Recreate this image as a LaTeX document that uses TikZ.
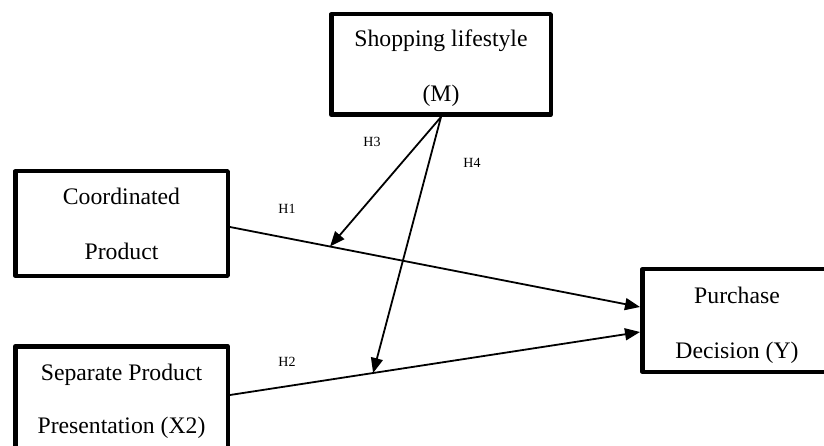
\documentclass[tikz,border=0pt]{standalone}
\usepackage{fontspec}
\setmainfont{Liberation Serif}
\usetikzlibrary{arrows.meta}
\begin{document}
\begin{tikzpicture}[x=1pt,y=-1pt,
  box/.style={draw=black, line width=4.5pt, line join=round, inner sep=0pt, fill=white},
  boxtext/.style={anchor=base, inner sep=0pt, font=\fontsize{23.7pt}{28pt}\selectfont},
  hyp/.style={anchor=base, inner sep=0pt, font=\fontsize{14pt}{16pt}\selectfont},
  conn/.style={draw=black, line width=1.8pt},
  tip/.style={-{Triangle[length=15pt,width=12pt]}}]
\useasboundingbox (0,0) rectangle (824,446);
\clip (0,0) rectangle (824,446);
\fill[white] (0,0) rectangle (824,446);
% boxes
\node[box, minimum width=219.5pt, minimum height=100.5pt] (shop) at (441,64.5) {};
\node[box, minimum width=212.5pt, minimum height=104.5pt] (coord) at (121.5,223.5) {};
\node[box, minimum width=212.5pt, minimum height=104.5pt] (sep) at (121.5,398.5) {};
\node[box, minimum width=189.5pt, minimum height=102.5pt] (purch) at (737,320.5) {};
% box texts
\node[boxtext] (shopA) at (441,47) {Shopping lifestyle};
\node[boxtext] (shopB) at (441,102) {(M)};
\node[boxtext] (coordA) at (121.5,205) {Coordinated};
\node[boxtext] (coordB) at (121.5,260) {Product};
\node[boxtext] (sepA) at (121.5,380) {Separate Product};
\node[boxtext] (sepB) at (121.5,433) {Presentation (X2)};
\node[boxtext] (purchA) at (737,303) {Purchase};
\node[boxtext] (purchB) at (737,358) {Decision (Y)};
% connectors
\draw[conn, tip] ([yshift=-3.5pt]coord.east) -- coordinate[pos=0.244] (p1) ([yshift=13.5pt]purch.west);
\draw[conn, tip] ([yshift=3.5pt]sep.east) -- coordinate[pos=0.349] (p2) ([yshift=-11.5pt]purch.west);
\draw[conn, tip] (shop.south) -- (p1);
\draw[conn, tip] (shop.south) -- (p2);
% hypothesis labels
\node[hyp] (h1) at (287,214) {H1};
\node[hyp] (h2) at (287,366) {H2};
\node[hyp] (h3) at (372,147) {H3};
\node[hyp] (h4) at (472,168) {H4};
\end{tikzpicture}
\end{document}
